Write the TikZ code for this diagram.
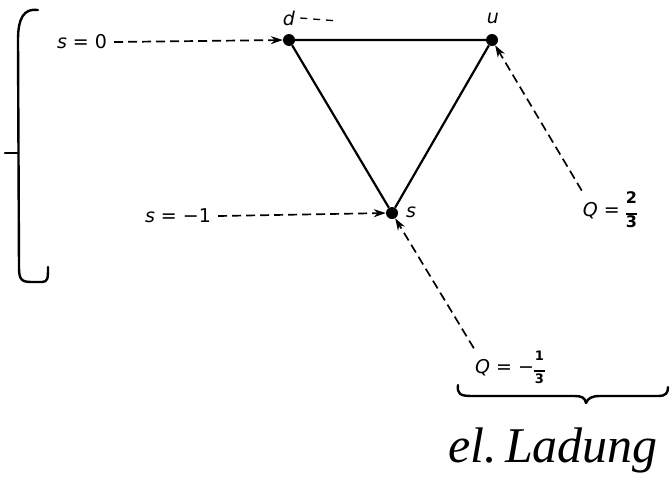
\documentclass[tikz,border=0pt]{standalone}
\usepackage{fontspec}
\setmainfont{DejaVu Sans}
\newfontfamily\handfont{Liberation Serif}
\usetikzlibrary{arrows.meta,positioning}
\newcommand{\qfrac}[3]{\raisebox{#3}{\fontsize{16}{16}\selectfont\bfseries\begin{tabular}{@{}c@{}}#1\\[-5pt]\rule{11pt}{1.4pt}\\[-4pt]#2\end{tabular}}}

\begin{document}
\begin{tikzpicture}[
  x=1pt,y=-1pt,
  font=\fontsize{19}{22}\selectfont,
  quark/.style={circle,fill=black,inner sep=0pt,minimum size=12pt},
  side/.style={line width=2.2pt},
  lbl/.style={inner sep=1pt},
  guide/.style={-{Stealth[length=12pt,width=8pt]},dash pattern=on 9pt off 5pt,line width=1.7pt},
  bracket/.style={line width=2.4pt,line cap=round,line join=round}
]
\useasboundingbox (0,0) rectangle (672,501);

% the three quarks
\node[quark] (d) at (289,40) {};
\node[quark] (u) at (492,40) {};
\node[quark] (s) at (392,213) {};
\draw[side] (d) -- (u) -- (s) -- (d);

\node[lbl] (dl) at (289,18) {\textit{d}};
\node[lbl] (ul) at (493,18) {\textit{u}};
\node[lbl] (sl) at (411,212) {\textit{s}};
\coordinate (dtail) at (338,21);
\draw[dash pattern=on 7pt off 6pt,line width=1.3pt] ([xshift=4pt]dl.east) -- (dtail);

% strangeness
\node[lbl] (s0) at (82,42) {\textit{s} = 0};
\node[lbl] (sm1) at (178,216) {\textit{s} = −1};
\draw[guide] ([xshift=6pt]s0.east) -- (d.west);
\draw[guide] ([xshift=6pt]sm1.east) -- (s.west);

% charge
\node[lbl] (q23) at (610,212) {\textit{Q} = \qfrac{2}{3}{0pt}};
\node[lbl] (q13) at (510,369) {\textit{Q} = −\qfrac{\fontsize{13}{13}\selectfont 1}{\fontsize{13}{13}\selectfont 3}{0pt}};
\draw[guide] (q23.north west) -- (u);
\draw[guide] (q13.north west) -- (s);

% hand-drawn brackets
\draw[bracket] (38,10) .. controls (24,8) and (18,18) .. (18,40) -- (19,268)
  .. controls (19,280) and (22,282) .. (32,282) -- (42,282)
  .. controls (48,282) and (48,278) .. (48,267);
\draw[bracket] (5,153) -- (18,153);
\draw[bracket] (458,385) .. controls (457,394) and (460,396) .. (472,396)
  -- (575,396) .. controls (582,396) and (585,398) .. (586,403)
  .. controls (588,398) and (592,396) .. (600,396) -- (658,396)
  .. controls (666,396) and (668,393) .. (668,387);
\node[font=\handfont\itshape\fontsize{50}{54}\selectfont] (charge) at (553,450) {el.\,Ladung};
\end{tikzpicture}
\end{document}
